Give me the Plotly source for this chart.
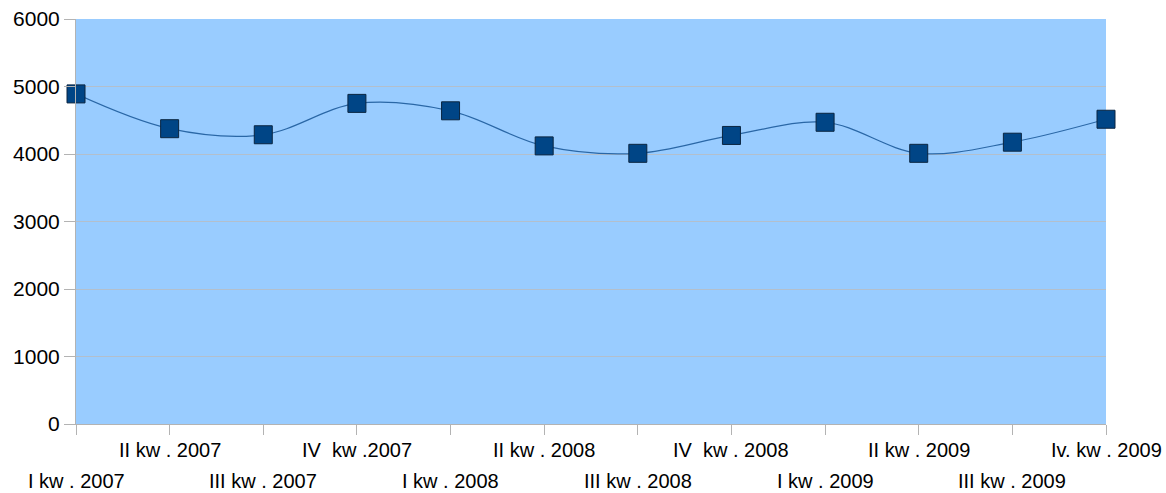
import plotly.graph_objects as go

categories = ["I kw . 2007", "II kw . 2007", "III kw . 2007", "IV  kw .2007",
              "I kw . 2008", "II kw . 2008", "III kw . 2008", "IV  kw . 2008",
              "I kw . 2009", "II kw . 2009", "III kw . 2009", "Iv. kw . 2009"]
values = [4890, 4375, 4285, 4750, 4640, 4120, 4010, 4275, 4470, 4010, 4175, 4515]
y_ticks = [0, 1000, 2000, 3000, 4000, 5000, 6000]

xs = list(range(len(categories)))

fig = go.Figure()
fig.add_trace(go.Scatter(
    x=xs, y=values, mode="lines+markers",
    line=dict(shape="spline", smoothing=1.0, color="#2a67a6", width=1.2),
    marker=dict(symbol="square", size=18, color="#004586",
                line=dict(color="#0a2540", width=1)),
    cliponaxis=False, showlegend=False,
))

for i, c in enumerate(categories):
    fig.add_annotation(x=i, xref="x", y=0, yref="paper", text=c, showarrow=False,
                       xanchor="center", yanchor="middle",
                       yshift=-26 if i % 2 == 1 else -57,
                       font=dict(size=20, color="black"))

fig.update_layout(
    width=1166, height=493,
    margin=dict(l=76, r=60, t=19, b=69),
    paper_bgcolor="white", plot_bgcolor="#99ccff",
    font=dict(family="Liberation Sans, Arial, sans-serif", size=20, color="black"),
    xaxis=dict(range=[0, len(categories) - 1], tickmode="array", tickvals=xs,
               showticklabels=False, ticks="outside", ticklen=10, tickcolor="#b3b3b3",
               showgrid=False, showline=True, linecolor="#b3b3b3", linewidth=1,
               zeroline=False, automargin=False),
    yaxis=dict(range=[0, 6000], tickmode="array", tickvals=y_ticks,
               ticks="outside", ticklen=11, tickcolor="#b3b3b3",
               showgrid=True, gridcolor="#b3bfcc", gridwidth=1,
               showline=True, linecolor="#b3b3b3", linewidth=1, zeroline=False,
               tickfont=dict(size=21), automargin=False),
)

fig.write_html("out.html", config={"displayModeBar": False},
               post_script="document.body.style.margin='0';document.body.style.overflow='hidden';")
